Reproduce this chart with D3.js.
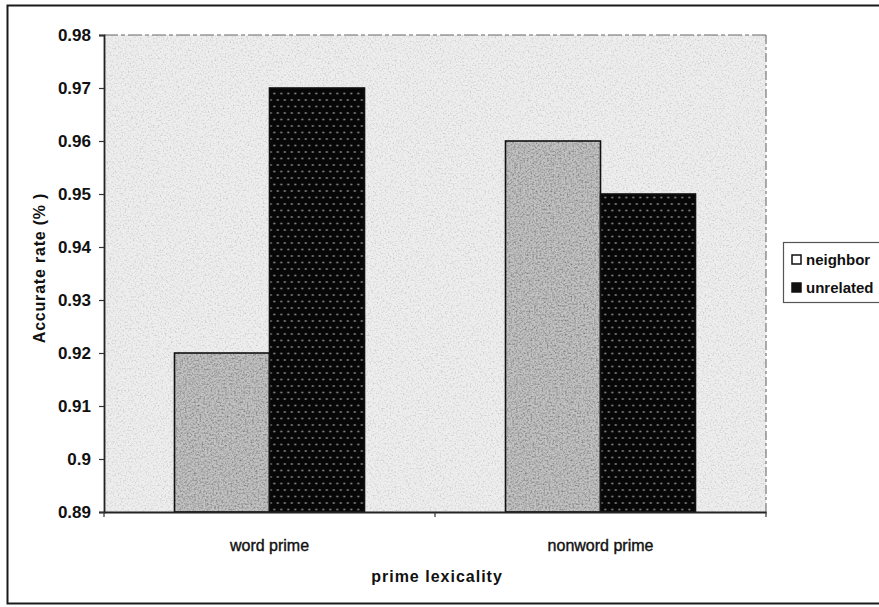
<!DOCTYPE html>
<html>
<head>
<meta charset="utf-8">
<script src="https://cdn.jsdelivr.net/npm/d3@7"></script>
<style>
  html, body { margin: 0; padding: 0; background: #fff; }
  svg { display: block; font-family: "Liberation Sans", Arial, sans-serif; }
</style>
</head>
<body>
<svg id="chart" width="879" height="607"></svg>
<script>
// Accuracy by prime lexicality and prime relation
const categories = ["word prime", "nonword prime"];
const seriesNames = ["neighbor", "unrelated"];
const neighborValues = [0.92, 0.96];
const unrelatedValues = [0.97, 0.95];
const yTicks = [0.89, 0.90, 0.91, 0.92, 0.93, 0.94, 0.95, 0.96, 0.97, 0.98];
const yTickLabels = ["0.89", "0.9", "0.91", "0.92", "0.93", "0.94", "0.95", "0.96", "0.97", "0.98"];

const svg = d3.select("#chart");
const plot = { left: 104, right: 766, top: 35, bottom: 512 };

const defs = svg.append("defs");

// speckled grain used on the plot area and the light bars
function grainFilter(id, strength, offset, freq, seed) {
  const f = defs.append("filter").attr("id", id)
    .attr("x", 0).attr("y", 0).attr("width", 1).attr("height", 1);
  f.append("feTurbulence").attr("type", "fractalNoise")
    .attr("baseFrequency", freq).attr("numOctaves", 2).attr("seed", seed).attr("result", "noise");
  f.append("feColorMatrix").attr("in", "noise").attr("type", "matrix")
    .attr("values", `0 0 0 0 0  0 0 0 0 0  0 0 0 0 0  ${strength} 0 0 0 ${offset}`)
    .attr("result", "specks");
  f.append("feComposite").attr("in", "specks").attr("in2", "SourceGraphic")
    .attr("operator", "in").attr("result", "clipped");
  const m = f.append("feMerge");
  m.append("feMergeNode").attr("in", "SourceGraphic");
  m.append("feMergeNode").attr("in", "clipped");
}
grainFilter("grainBg", 0.8, -0.38, 0.6, 7);
grainFilter("grainBar", 1.3, -0.5, 0.55, 11);

// black fill with a staggered grid of pale dots
const dots = defs.append("pattern").attr("id", "dotFill")
  .attr("patternUnits", "userSpaceOnUse").attr("width", 7).attr("height", 13);
dots.append("rect").attr("width", 7).attr("height", 13).attr("fill", "#070707");
dots.append("circle").attr("cx", 1.8).attr("cy", 2.5).attr("r", 1.05).attr("fill", "#8c8c8c");
dots.append("circle").attr("cx", 5.3).attr("cy", 9).attr("r", 1.05).attr("fill", "#8c8c8c");

// outer frame
svg.append("rect").attr("x", 7.5).attr("y", 5.5).attr("width", 900).attr("height", 598)
  .attr("fill", "none").attr("stroke", "#1a1a1a").attr("stroke-width", 2);

const y = d3.scaleLinear().domain([0.89, 0.98]).range([plot.bottom, plot.top]);
const x0 = d3.scaleBand().domain(categories).range([plot.left, plot.right])
  .paddingInner(0.426).paddingOuter(0.213);
const x1 = d3.scaleBand().domain(seriesNames).range([0, x0.bandwidth()]).padding(0);

// plot area
svg.append("rect").attr("x", plot.left).attr("y", plot.top)
  .attr("width", plot.right - plot.left).attr("height", plot.bottom - plot.top)
  .attr("fill", "#eeeeee").attr("filter", "url(#grainBg)");
svg.append("line").attr("x1", plot.left).attr("x2", plot.right)
  .attr("y1", plot.top).attr("y2", plot.top)
  .attr("stroke", "#666").attr("stroke-width", 1).attr("stroke-dasharray", "14 3 4 3");
svg.append("line").attr("x1", plot.right).attr("x2", plot.right)
  .attr("y1", plot.top).attr("y2", plot.bottom)
  .attr("stroke", "#777").attr("stroke-width", 1.2).attr("stroke-dasharray", "9 3 3 3");

// bars
const rows = categories.map((c, i) => ({
  category: c,
  values: [
    { key: "neighbor", value: neighborValues[i] },
    { key: "unrelated", value: unrelatedValues[i] }
  ]
}));

const groups = svg.append("g").selectAll("g").data(rows).join("g")
  .attr("transform", d => `translate(${x0(d.category)},0)`);

groups.selectAll("rect.bar").data(d => d.values).join("rect")
  .attr("class", "bar")
  .attr("x", d => x1(d.key))
  .attr("y", d => y(d.value))
  .attr("width", x1.bandwidth())
  .attr("height", d => y(0.89) - y(d.value))
  .attr("fill", d => d.key === "neighbor" ? "#c3c3c3" : "url(#dotFill)")
  .attr("filter", d => d.key === "neighbor" ? "url(#grainBar)" : null);

groups.selectAll("rect.outline").data(d => d.values).join("rect")
  .attr("class", "outline")
  .attr("x", d => x1(d.key))
  .attr("y", d => y(d.value))
  .attr("width", x1.bandwidth())
  .attr("height", d => y(0.89) - y(d.value))
  .attr("fill", "none").attr("stroke", "#111").attr("stroke-width", 1.6);

// y axis
const yAxis = svg.append("g").attr("transform", `translate(${plot.left},0)`)
  .call(d3.axisLeft(y).tickValues(yTicks)
    .tickFormat((d, i) => yTickLabels[i]).tickSize(5).tickPadding(8));
yAxis.select(".domain").attr("stroke", "#222").attr("stroke-width", 1.8);
yAxis.selectAll(".tick line").attr("stroke", "#333").attr("stroke-width", 1.2);
yAxis.selectAll(".tick text").attr("font-family", "Liberation Sans, Arial, sans-serif")
  .attr("font-size", 17).attr("font-weight", "bold").attr("fill", "#111");

// x axis: ticks sit on the category boundaries
const boundaries = [plot.left, (x0(categories[0]) + x0.bandwidth() + x0(categories[1])) / 2, plot.right];
const xAxis = svg.append("g").attr("transform", `translate(0,${plot.bottom})`)
  .call(d3.axisBottom(x0).tickSize(0).tickPadding(28));
xAxis.select(".domain").attr("stroke", "#222").attr("stroke-width", 1.8);
xAxis.selectAll(".tick text").attr("font-family", "Liberation Sans, Arial, sans-serif")
  .attr("font-size", 16).attr("fill", "#111")
  .attr("stroke", "#111").attr("stroke-width", 0.4);
xAxis.selectAll("line.bound").data(boundaries).join("line").attr("class", "bound")
  .attr("x1", d => d).attr("x2", d => d).attr("y1", 0).attr("y2", 5)
  .attr("stroke", "#333").attr("stroke-width", 1.2);

// axis titles
svg.append("text").attr("x", 437).attr("y", 582).attr("text-anchor", "middle")
  .attr("font-size", 16).attr("font-weight", "bold").attr("letter-spacing", 1).attr("fill", "#111")
  .text("prime lexicality");
svg.append("text").attr("transform", "translate(45,268) rotate(-90)").attr("text-anchor", "middle")
  .attr("font-size", 16).attr("font-weight", "bold").attr("letter-spacing", 0.8).attr("fill", "#111")
  .text("Accurate rate (% )");

// legend
const legend = svg.append("g");
legend.append("rect").attr("x", 783.5).attr("y", 242.5).attr("width", 110).attr("height", 60)
  .attr("fill", "#fff").attr("stroke", "#555").attr("stroke-width", 1.2);
const items = legend.selectAll("g.item").data(seriesNames).join("g").attr("class", "item")
  .attr("transform", (d, i) => `translate(792,${255 + i * 28})`);
items.append("rect").attr("width", 9).attr("height", 9)
  .attr("fill", d => d === "neighbor" ? "#fff" : "#111")
  .attr("stroke", "#111").attr("stroke-width", 1.5);
items.append("text").attr("x", 14).attr("y", 5).attr("dy", "0.35em")
  .attr("font-size", 15).attr("font-weight", "bold").attr("fill", "#111")
  .text(d => d);
</script>
</body>
</html>
